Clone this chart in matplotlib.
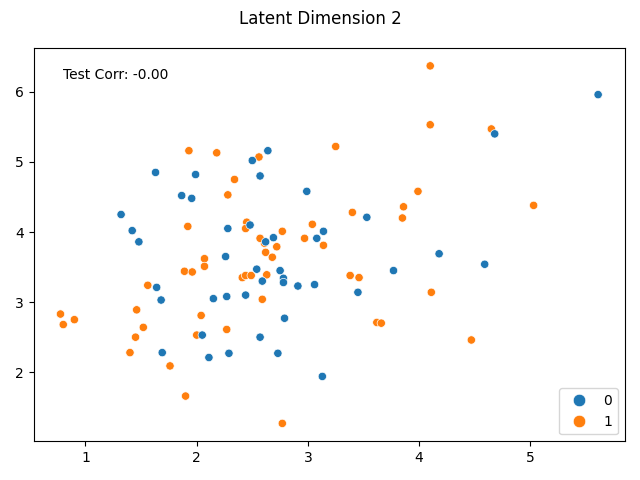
import matplotlib
matplotlib.use("Agg")
import matplotlib.pyplot as plt
import seaborn as sns

# class 1 (orange)
x1 = [1.93, 2.18, 2.34, 2.28, 1.92, 4.10, 4.10, 2.56, 3.25, 3.40, 3.99, 3.86, 3.85,
      2.45, 2.44, 3.04, 2.77, 2.61, 2.57, 2.97, 3.14, 2.72, 4.65, 5.03, 2.07, 2.07,
      1.89, 1.96, 1.56, 0.775, 0.80, 0.90, 1.46, 1.52, 1.45, 1.40, 2.04, 2.00, 2.27,
      1.76, 1.90, 2.62, 2.68, 2.41, 2.44, 2.49, 2.63, 2.59, 3.38, 3.46, 4.11, 3.62,
      3.66, 4.47, 2.77]
y1 = [5.16, 5.13, 4.75, 4.53, 4.08, 6.37, 5.53, 5.07, 5.22, 4.28, 4.58, 4.36, 4.20,
      4.14, 4.05, 4.11, 4.01, 3.84, 3.91, 3.91, 3.81, 3.79, 5.47, 4.38, 3.62, 3.51,
      3.44, 3.43, 3.24, 2.83, 2.68, 2.75, 2.89, 2.64, 2.50, 2.28, 2.81, 2.53, 2.61,
      2.09, 1.66, 3.71, 3.64, 3.35, 3.38, 3.38, 3.39, 3.04, 3.38, 3.35, 3.14, 2.71,
      2.70, 2.46, 1.27]

# class 0 (blue)
x0 = [5.61, 4.68, 1.63, 1.99, 1.865, 1.955, 1.32, 1.42, 1.48, 2.28, 2.64, 2.50, 2.57,
      2.99, 3.53, 2.48, 3.14, 2.69, 2.62, 3.08, 2.26, 1.64, 1.68, 2.15, 2.27, 1.69,
      2.05, 2.11, 2.29, 2.54, 2.75, 2.78, 2.78, 2.59, 2.91, 3.06, 2.44, 3.45, 3.77,
      2.79, 2.57, 2.73, 3.13, 4.18, 4.59]
y0 = [5.96, 5.40, 4.85, 4.82, 4.52, 4.48, 4.25, 4.02, 3.86, 4.05, 5.16, 5.02, 4.80,
      4.58, 4.21, 4.10, 4.01, 3.92, 3.86, 3.91, 3.65, 3.21, 3.03, 3.05, 3.08, 2.28,
      2.53, 2.21, 2.27, 3.47, 3.45, 3.34, 3.28, 3.30, 3.23, 3.25, 3.10, 3.14, 3.45,
      2.77, 2.50, 2.27, 1.94, 3.69, 3.54]

xs = x1 + x0
ys = y1 + y0
labels = [1] * len(x1) + [0] * len(x0)

fig, ax = plt.subplots(figsize=(6.4, 4.8), dpi=100)
sns.scatterplot(x=xs, y=ys, hue=labels, ax=ax)
ax.legend(loc='lower right', markerscale=1.5)
ax.text(0.05, 0.95, 'Test Corr: -0.00', transform=ax.transAxes, va='top')
fig.suptitle('Latent Dimension 2')
plt.tight_layout()
plt.savefig('out.png')
